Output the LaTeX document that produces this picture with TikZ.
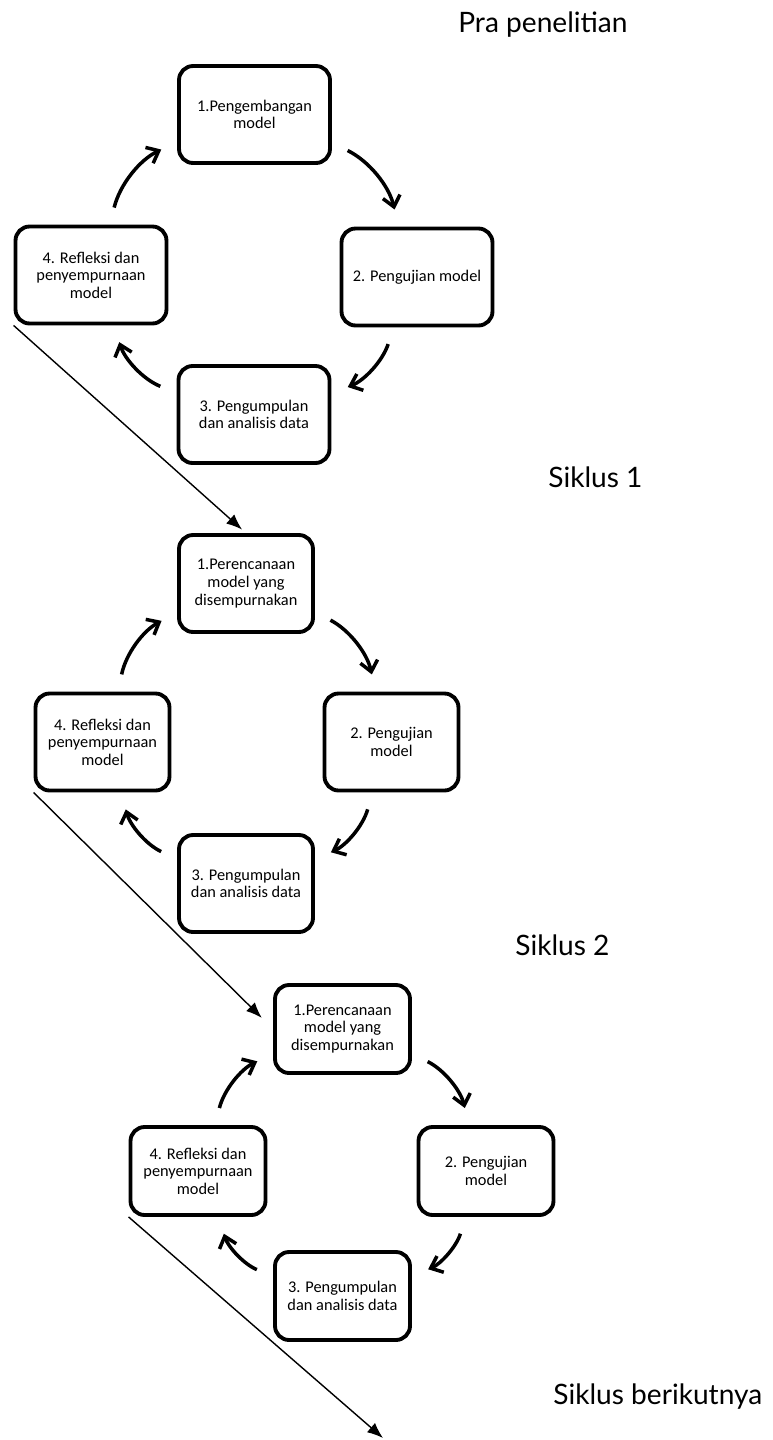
\documentclass[tikz,border=0pt]{standalone}
\usepackage{fontspec}
\setmainfont{Carlito}
\newfontfamily\labelfont{Lato}
\usetikzlibrary{arrows.meta}

\begin{document}
\begin{tikzpicture}[x=0.02cm,y=-0.02cm,
	stagebox/.style={draw,line width=2.2pt,rounded corners=8pt,align=center,
		font=\fontsize{9.3}{10}\selectfont,inner sep=2pt},
	boxa/.style={stagebox,minimum width=3.02cm,minimum height=1.94cm},
	boxb/.style={stagebox,minimum width=2.68cm,minimum height=1.94cm},
	boxc/.style={stagebox,minimum width=2.7cm,minimum height=1.76cm},
	cyclearrow/.style={line width=2pt,-{Straight Barb[length=6pt,width=10pt]},
		shorten <=10pt,shorten >=10pt,bend left=25},
	nextarrow/.style={line width=0.8pt,-{Latex[length=9pt,width=7pt]}},
	cyclename/.style={font=\labelfont\fontsize{16}{19}\selectfont,anchor=west,inner sep=0pt}]
	\useasboundingbox (0,0) rectangle (773,1440);

	% Pra penelitian
	\node[cyclename] (lpra) at (458,25) {Pra penelitian};
	\node[boxa] (pra1) at (254.5,114.5) {1.Pengembangan\\model};
	\node[boxa] (pra2) at (417,277) {2. Pengujian model};
	\node[boxa] (pra3) at (254,414.5) {3. Pengumpulan\\dan analisis data};
	\node[boxa] (pra4) at (91,275) {4. Refleksi dan\\penyempurnaan\\model};
	\foreach \a/\b in {pra1/pra2,pra2/pra3,pra3/pra4,pra4/pra1}
		\draw[cyclearrow] (\a) to (\b);

	% Siklus 1
	\node[cyclename] (lsa) at (548,477) {Siklus 1};
	\node[boxb] (sa1) at (246,583.5) {1.Perencanaan\\model yang\\disempurnakan};
	\node[boxb] (sa2) at (391.5,742) {2. Pengujian\\model};
	\node[boxb] (sa3) at (246,883.5) {3. Pengumpulan\\dan analisis data};
	\node[boxb] (sa4) at (102.5,742) {4. Refleksi dan\\penyempurnaan\\model};
	\foreach \a/\b in {sa1/sa2,sa2/sa3,sa3/sa4,sa4/sa1}
		\draw[cyclearrow] (\a) to (\b);

	% Siklus 2
	\node[cyclename] (lsb) at (515,945) {Siklus 2};
	\node[boxc] (sb1) at (342.5,1029) {1.Perencanaan\\model yang\\disempurnakan};
	\node[boxc] (sb2) at (486,1171) {2. Pengujian\\model};
	\node[boxc] (sb3) at (342.5,1296) {3. Pengumpulan\\dan analisis data};
	\node[boxc] (sb4) at (198,1171) {4. Refleksi dan\\penyempurnaan\\model};
	\foreach \a/\b in {sb1/sb2,sb2/sb3,sb3/sb4,sb4/sb1}
		\draw[cyclearrow] (\a) to (\b);

	% Siklus berikutnya
	\node[cyclename] (lnext) at (553,1397) {Siklus berikutnya};
	\coordinate (onward) at (383,1438);

	% From one cycle to the next
	\draw[nextarrow,shorten >=3pt] (pra4.south west) -- (sa1.north);
	\draw[nextarrow,shorten >=9pt] (sa4.south west) -- (sb1.west);
	\draw[nextarrow] (sb4.south west) -- (onward);
\end{tikzpicture}
\end{document}
